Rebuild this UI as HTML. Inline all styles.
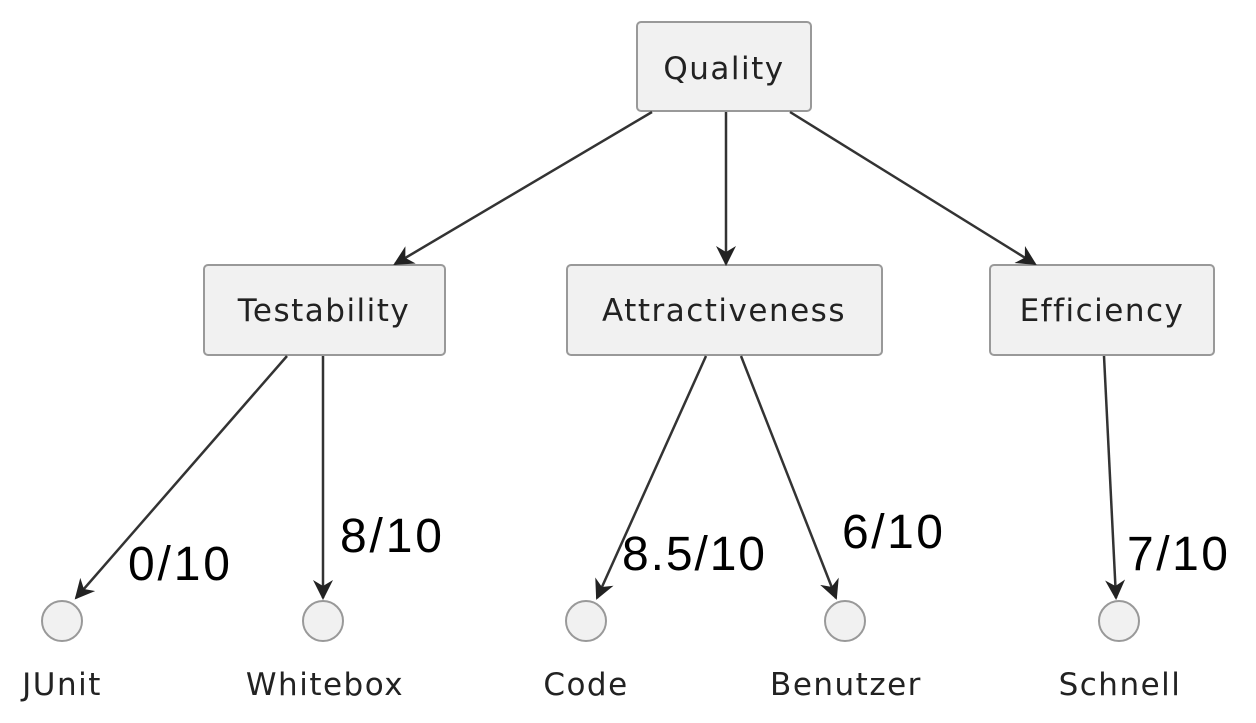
<!DOCTYPE html>
<html><head><style>body{margin:0;background:#fff}svg{display:block}</style></head><body>
<svg width="1256" height="723" viewBox="0 0 1256 723" xmlns="http://www.w3.org/2000/svg">
<defs><marker id="a" viewBox="0 0 20 20" refX="18" refY="10" markerWidth="20" markerHeight="20" markerUnits="userSpaceOnUse" orient="auto"><path d="M0,0 L20,10 L0,20 L6,10 Z" fill="#222"/></marker></defs>
<g fill="#f1f1f1" stroke="#999" stroke-width="2">
<rect x="637" y="22" width="174" height="89" rx="4"/>
<rect x="204" y="265" width="241" height="90" rx="4"/>
<rect x="567" y="265" width="315" height="90" rx="4"/>
<rect x="990" y="265" width="224" height="90" rx="4"/>
<circle cx="62" cy="621" r="20"/><circle cx="323" cy="621" r="20"/><circle cx="586" cy="621" r="20"/><circle cx="845" cy="621" r="20"/><circle cx="1119" cy="621" r="20"/>
</g>
<g stroke="#333" stroke-width="2.5" marker-end="url(#a)">
<line x1="652" y1="112" x2="395" y2="264"/>
<line x1="726" y1="112" x2="726" y2="264"/>
<line x1="790" y1="112" x2="1035" y2="264"/>
<line x1="287" y1="356" x2="76" y2="598"/>
<line x1="323" y1="356" x2="323" y2="598"/>
<line x1="706" y1="356" x2="597" y2="598"/>
<line x1="741" y1="356" x2="836" y2="598"/>
<line x1="1104" y1="356" x2="1116" y2="598"/>
</g>
<g font-family="DejaVu Sans, sans-serif" font-size="31" fill="#222" text-anchor="middle" letter-spacing="1.5">
<text x="724" y="79">Quality</text>
<text x="324" y="321">Testability</text>
<text x="724" y="321">Attractiveness</text>
<text x="1102" y="321">Efficiency</text>
<text x="62" y="695">JUnit</text>
<text x="325" y="695">Whitebox</text>
<text x="586" y="695">Code</text>
<text x="846" y="695">Benutzer</text>
<text x="1120" y="695">Schnell</text>
</g>
<g font-family="Liberation Sans, sans-serif" font-size="48" fill="#000">
<text x="128" y="580" textLength="102">0/10</text>
<text x="340" y="552" textLength="102">8/10</text>
<text x="622" y="570" textLength="143">8.5/10</text>
<text x="842" y="548" textLength="101">6/10</text>
<text x="1127" y="570" textLength="101">7/10</text>
</g>
</svg>
</body></html>
